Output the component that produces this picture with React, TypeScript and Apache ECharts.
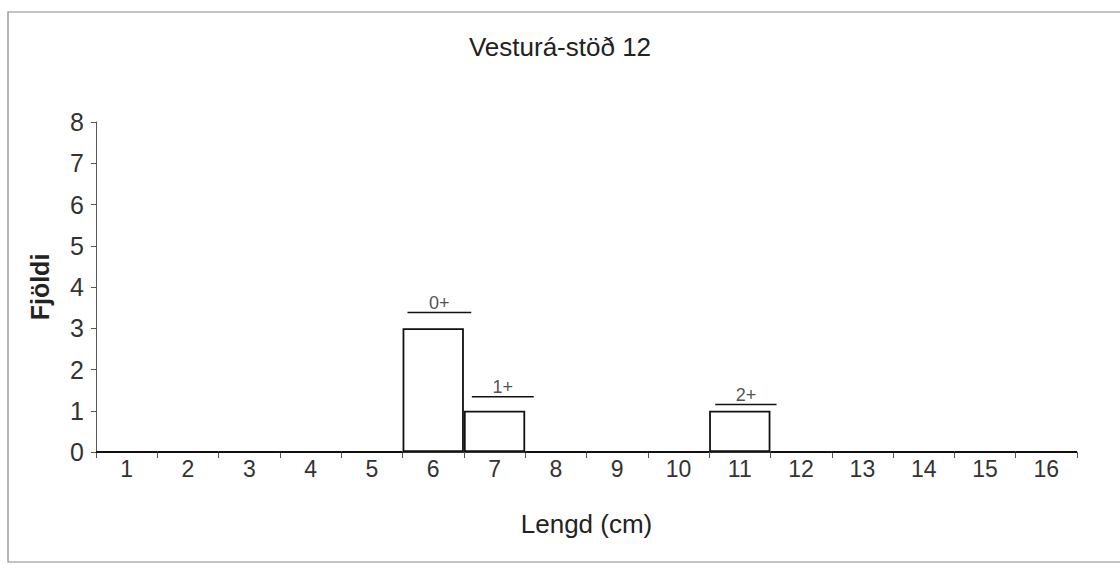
import React, { useEffect, useRef } from "react";
import * as echarts from "echarts";

const categories = ["1", "2", "3", "4", "5", "6", "7", "8", "9", "10", "11", "12", "13", "14", "15", "16"];
const counts = [0, 0, 0, 0, 0, 3, 1, 0, 0, 0, 1, 0, 0, 0, 0, 0];
const yTicks = [0, 1, 2, 3, 4, 5, 6, 7, 8];
const ageLabels = ["0+", "1+", "2+"];
const ageStart = [5.58, 6.63, 10.6];
const ageEnd = [6.62, 7.64, 11.6];
const ageLevel = [3.38, 1.34, 1.15];

const FONT = "'Liberation Sans', Arial, sans-serif";

export default function App() {
  const ref = useRef<HTMLDivElement>(null);
  useEffect(() => {
    if (!ref.current) return;
    const chart = echarts.init(ref.current, undefined, { renderer: "svg" });
    const annotationLines = ageLabels.map((name, i) => ({
      type: "line",
      name,
      xAxisIndex: 1,
      yAxisIndex: 0,
      data: [
        [ageStart[i], ageLevel[i]],
        [ageEnd[i], ageLevel[i]],
      ],
      symbol: "none",
      lineStyle: { color: "#111", width: 1.5 },
      silent: true,
      z: 5,
    }));
    chart.setOption({
      animation: false,
      backgroundColor: "#fff",
      textStyle: { fontFamily: FONT },
      title: {
        text: "Vesturá-stöð 12",
        left: "center",
        top: 29,
        textStyle: { fontFamily: FONT, fontSize: 26, fontWeight: "normal", color: "#222" },
      },
      graphic: [
        {
          type: "polyline",
          shape: { points: [[1125, 12], [8, 12], [8, 562], [1125, 562]] },
          style: { fill: "none", stroke: "#888", lineWidth: 1.2 },
          silent: true,
          z: -1,
        },
      ],
      grid: { left: 96, right: 43, top: 122, bottom: 124 },
      xAxis: [
        {
          type: "category",
          data: categories,
          boundaryGap: true,
          name: "Lengd (cm)",
          nameLocation: "middle",
          nameGap: 59,
          nameTextStyle: { fontFamily: FONT, fontSize: 26, color: "#222" },
          axisLine: { lineStyle: { color: "#333", width: 1 } },
          axisTick: { show: true, length: 6, lineStyle: { color: "#555" } },
          axisLabel: { fontFamily: FONT, fontSize: 23, color: "#333", margin: 5 },
          splitLine: { show: false },
        },
        {
          type: "value",
          min: 0.5,
          max: 16.5,
          show: false,
        },
      ],
      yAxis: {
        type: "value",
        min: 0,
        max: 8,
        interval: 1,
        name: "Fjöldi",
        nameLocation: "middle",
        nameGap: 44,
        nameRotate: 90,
        nameTextStyle: { fontFamily: FONT, fontSize: 25, fontWeight: "bold", color: "#222" },
        axisLine: { show: true, lineStyle: { color: "#555", width: 1 } },
        axisTick: { show: true, length: 5, lineStyle: { color: "#555" } },
        axisLabel: {
          fontFamily: FONT,
          fontSize: 25,
          color: "#333",
          margin: 12,
          formatter: (v: number) => (yTicks.includes(v) ? String(v) : ""),
        },
        splitLine: { show: false },
      },
      series: [
        {
          type: "bar",
          data: counts,
          xAxisIndex: 0,
          barCategoryGap: "0%",
          itemStyle: { color: "#fff", borderColor: "#111", borderWidth: 1.8 },
          z: 3,
        },
        ...annotationLines,
        {
          type: "scatter",
          xAxisIndex: 1,
          yAxisIndex: 0,
          symbolSize: 0,
          data: ageLabels.map((name, i) => ({
            value: [(ageStart[i] + ageEnd[i]) / 2, ageLevel[i]],
            label: { show: true, formatter: name },
          })),
          label: {
            show: true,
            position: "top",
            distance: 1,
            fontFamily: FONT,
            fontSize: 18,
            color: "#222",
          },
          silent: true,
          z: 6,
        },
      ],
    });
    return () => chart.dispose();
  }, []);
  return <div ref={ref} style={{ position: "absolute", left: 0, top: 0, width: 1120, height: 576 }} />;
}
